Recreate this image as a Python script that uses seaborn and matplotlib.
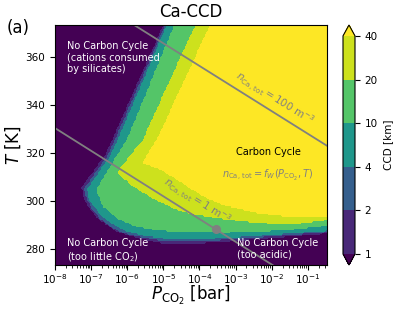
import numpy as np
import matplotlib
matplotlib.use('Agg')
import matplotlib.pyplot as plt
from matplotlib.path import Path
import seaborn as sns

# =====================
# DATA
# =====================
ccd_levels = [1, 2, 4, 10, 20, 40]          # contour levels [km]
ccd_ticklabels = ['1', '2', '4', '10', '20', '40']
band_ccd = [0.5, 1.5, 3, 7, 15, 30, 60]      # typical CCD inside each band

# boundary of the region CCD >= level: log10(P_CO2/bar) and T [K],
# from the top edge down the silicate side, then along the bottom to the right edge
ccd1_logp = [-4.79, -5.01, -6.39, -6.64, -7.25, -7.22, -7.09, -6.84, -6.56, -6.20, -5.65, -5.09, -4.26, -3.35, -2.40, -1.49, -0.47]
ccd1_T = [380.0, 372.4, 325.7, 317.9, 305.5, 302.1, 298.0, 293.1, 289.8, 286.9, 284.4, 282.6, 282.2, 283.0, 284.1, 285.3, 286.6]

ccd2_logp = [-4.74, -4.95, -6.31, -6.56, -7.17, -7.11, -6.98, -6.73, -6.45, -6.12, -5.59, -5.04, -4.26, -3.35, -2.40, -1.49, -0.47]
ccd2_T = [380.0, 372.4, 325.7, 317.9, 305.0, 300.9, 297.2, 292.6, 289.3, 286.9, 285.0, 283.6, 283.3, 283.9, 284.9, 286.0, 287.1]

ccd4_logp = [-4.69, -4.90, -6.23, -6.48, -7.09, -7.03, -6.89, -6.64, -6.37, -6.03, -5.51, -4.95, -4.26, -3.35, -2.40, -1.49, -0.47]
ccd4_T = [380.0, 372.4, 325.7, 317.9, 304.6, 300.5, 297.2, 293.1, 290.2, 287.7, 285.6, 284.4, 284.1, 284.6, 285.6, 286.6, 287.7]

ccd10_logp = [-4.48, -4.70, -5.98, -6.84, -6.67, -6.28, -5.73, -5.09, -4.26, -3.35, -2.40, -1.49, -0.47]
ccd10_T = [380.0, 372.4, 325.7, 304.6, 298.0, 292.8, 289.3, 287.7, 287.3, 286.9, 287.3, 288.1, 289.8]

ccd20_logp = [-3.90, -4.12, -5.56, -6.26, -5.84, -5.29, -4.73, -4.26, -3.35, -2.40, -1.49, -0.47]
ccd20_T = [380.0, 372.4, 324.9, 311.7, 306.3, 301.3, 297.2, 294.8, 292.6, 291.0, 290.2, 292.2]

ccd40_logp = [-3.49, -3.71, -5.15, -5.56, -5.09, -4.62, -4.26, -3.80, -3.35, -2.40, -1.49, -0.47]
ccd40_T = [380.0, 372.4, 325.7, 315.8, 313.3, 309.0, 305.5, 301.5, 298.5, 295.1, 293.5, 293.9]

# n_Ca,tot = const lines (P [bar], T [K])
line_p = [1e-8, 1.0]
line100_T = [393.8, 318.4]
line1_T = [330.2, 254.4]

# modern Earth
earth_p = 2.8e-4
earth_T = 288.0

p_min, p_max = 1e-8, 10 ** -0.47
T_min, T_max = 273.15, 373.15

# =====================
# FIELD ON A GRID
# =====================
boundaries = [(ccd1_logp, ccd1_T), (ccd2_logp, ccd2_T), (ccd4_logp, ccd4_T),
              (ccd10_logp, ccd10_T), (ccd20_logp, ccd20_T), (ccd40_logp, ccd40_T)]

logp_grid = np.linspace(np.log10(p_min), np.log10(p_max), 190)
T_grid = np.linspace(T_min, T_max, 160)
LP, TT = np.meshgrid(logp_grid, T_grid)
pts = np.column_stack([LP.ravel(), TT.ravel()])

count = np.zeros(len(pts), dtype=int)
for lp, tt in boundaries:
    verts = list(zip(lp, tt)) + [(1.0, tt[-1]), (1.0, 400.0), (lp[0], 400.0)]
    count += Path(verts).contains_points(pts)
ccd = np.array(band_ccd)[count].reshape(LP.shape)

# colours: viridis sampled on a log scale between 1 and 40 km
viridis = sns.color_palette("viridis", as_cmap=True)
mids = np.log10([1.5, 3, 7, 15, 30]) / np.log10(40)
band_colors = [viridis(0.0)] + [viridis(m) for m in mids] + [viridis(1.0)]

# =====================
# PLOT
# =====================
plt.rcParams['font.family'] = ['DejaVu Sans']
fig = plt.figure(figsize=(3.94, 3.10), dpi=100)
ax = fig.add_axes([55 / 394, 45 / 310, 272 / 394, 240 / 310])
cax = fig.add_axes([343 / 394, 45 / 310, 12 / 394, 240 / 310])

cs = ax.contourf(10 ** LP, TT, ccd, levels=ccd_levels, colors=band_colors, extend='both')
ax.set_xscale('log')
ax.set_xlim(p_min, p_max)
ax.set_ylim(T_min, T_max)

gray = '#808080'
ax.plot(line_p, line100_T, color=gray, lw=1.3)
ax.plot(line_p, line1_T, color=gray, lw=1.3)
ax.plot([earth_p], [earth_T], 'o', color=gray, ms=5.5)

ax.text(10 ** -1.91, 342.6, r'$n_{\rm Ca,\,tot} = 100\ {\rm m^{-3}}$', color=gray,
        fontsize=7.5, rotation=-32, ha='center', va='center')
ax.text(10 ** -4.07, 299.7, r'$n_{\rm Ca,\,tot} = 1\ {\rm m^{-3}}$', color=gray,
        fontsize=7.5, rotation=-32, ha='center', va='center')
ax.text(10 ** -2.10, 320.3, 'Carbon Cycle', color='black', fontsize=7,
        ha='center', va='center')
ax.text(10 ** -2.10, 310.4, r'$n_{\rm Ca,\,tot} = f_W(P_{\rm CO_2}, T)$', color=gray,
        fontsize=7, ha='center', va='center')

ax.text(10 ** -7.67, 366.5, 'No Carbon Cycle\n(cations consumed\nby silicates)',
        color='white', fontsize=7, ha='left', va='top')
ax.text(10 ** -7.67, 284.3, 'No Carbon Cycle\n(too little CO$_2$)',
        color='white', fontsize=7, ha='left', va='top')
ax.text(10 ** -2.96, 284.3, 'No Carbon Cycle\n(too acidic)',
        color='white', fontsize=7, ha='left', va='top')

ax.set_yticks([280, 300, 320, 340, 360])
ax.tick_params(labelsize=7.5)
ax.tick_params(axis='x', pad=1.5)
ax.set_xlabel(r'$P_{\rm CO_2}$ [bar]', fontsize=12, labelpad=-1)
ax.set_ylabel(r'$T$ [K]', fontsize=12, labelpad=2)
ax.set_title('Ca-CCD', fontsize=12)

cb = fig.colorbar(cs, cax=cax, ticks=ccd_levels)
cb.set_ticklabels(ccd_ticklabels)
cb.ax.tick_params(labelsize=7.5)
cb.set_label('CCD [km]', fontsize=7.5)

fig.text(0.018, 0.895, '(a)', fontsize=12)

fig.savefig('out.png', dpi=100)
